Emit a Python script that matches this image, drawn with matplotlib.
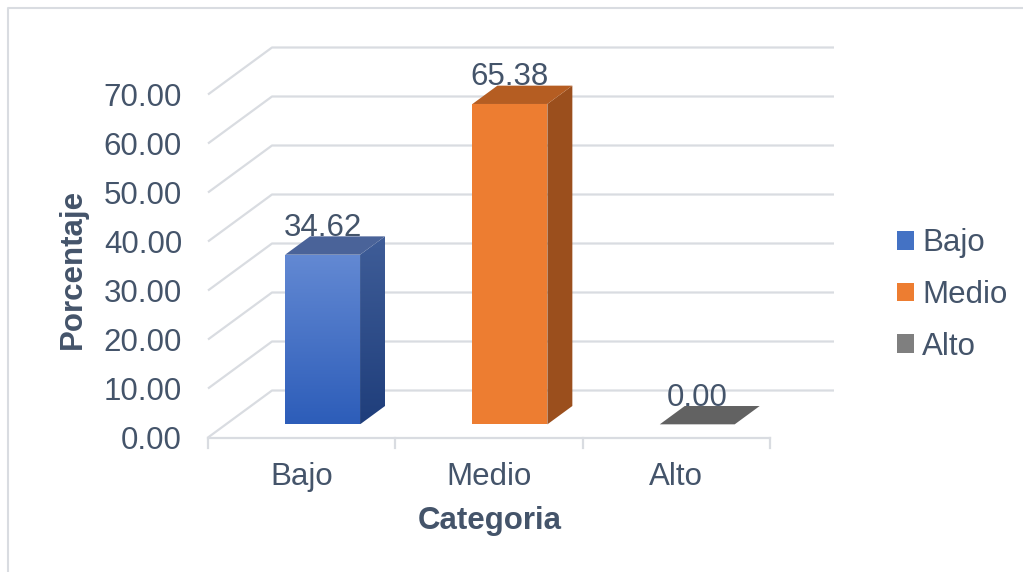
import numpy as np
import matplotlib
matplotlib.use("Agg")
import matplotlib.pyplot as plt
from matplotlib.patches import Polygon, Patch
from matplotlib.colors import LinearSegmentedColormap

categories = ["Bajo", "Medio", "Alto"]
values = [34.62, 65.38, 0.00]
yticks = [0, 10, 20, 30, 40, 50, 60, 70]

# face colours: (front top, front bottom), (side top, side bottom), top face
front_cols = [("#6389D3", "#2D5DB9"), ("#ED7D31", "#ED7D31"), ("#636363", "#636363")]
side_cols = [("#3F5D98", "#1F3E7B"), ("#9B4F1D", "#9B4F1D"), ("#4A4A4A", "#4A4A4A")]
top_cols = ["#4A6399", "#B55D22", "#626262"]
legend_cols = ["#4472C4", "#ED7D31", "#7F7F7F"]

text_col = "#44546A"
grid_col = "#D9DCE1"
plt.rcParams["font.family"] = ["Liberation Sans", "DejaVu Sans"]
fs = 22.5

W, H = 1023, 572
fig = plt.figure(figsize=(W / 100, H / 100), dpi=100)
ax = fig.add_axes([0, 0, 1, 1])
ax.set_axis_off()

# front plane: category slots span x px 208..770, value 0 at y px 437.5, 4.9 px per unit
px_left, px_right = 208, 770
ppx = (px_right - px_left) / len(categories)
py0, ppy = 437.5, 4.9
ax.set_xlim(-0.5 - px_left / ppx, -0.5 + (W - px_left) / ppx)
ax.set_ylim(-(H - py0) / ppy, py0 / ppy)

# oblique depth offset of the back wall
DX = 64 / ppx
DV = 47 / ppy


def proj(x, v, f):
    return (x + f * DX, v + f * DV)


x0, x1 = -0.5, len(categories) - 0.5

# back wall gridlines with their side diagonals
for v in yticks:
    pts = [proj(x0, v, 0), proj(x0, v, 1), proj(x1, v, 1)]
    ax.plot(*zip(*pts), color=grid_col, lw=1.6, solid_capstyle="butt", zorder=1)
    ax.text(x0 - 26 / ppx, v - 3.5 / ppy, f"{v:.2f}", ha="right", va="center",
            fontsize=fs, color=text_col)

# floor front edge and category ticks
ax.plot([x0, x1], [0, 0], color=grid_col, lw=1.6, zorder=1)
for b in np.arange(x0, x1 + 0.01, 1.0):
    ax.plot([b, b], [0, -10 / ppy], color=grid_col, lw=1.6, zorder=1)

for i, c in enumerate(categories):
    ax.text(i, -(477 - py0) / ppy, c, ha="center", va="center",
            fontsize=fs, color=text_col)


def grad_poly(pts, c_top, c_bot, z):
    poly = Polygon(pts, closed=True, facecolor="none", edgecolor="none", zorder=z)
    ax.add_patch(poly)
    if c_top == c_bot:
        poly.set_facecolor(c_top)
        return
    xs = [p[0] for p in pts]
    ys = [p[1] for p in pts]
    cmap = LinearSegmentedColormap.from_list("g", [c_bot, c_top])
    grad = np.linspace(0, 1, 256).reshape(-1, 1)
    im = ax.imshow(grad, cmap=cmap, origin="lower", aspect="auto",
                   extent=[min(xs), max(xs), min(ys), max(ys)], zorder=z,
                   interpolation="bilinear")
    im.set_clip_path(poly)


# 3D bars
bw = 0.4
shift = 3 / ppx
f0, f1 = 0.28, 0.67
for i, v in enumerate(values):
    xl, xr = i - bw / 2 + shift, i + bw / 2 + shift
    if v > 0:
        front = [proj(xl, 0, f0), proj(xr, 0, f0), proj(xr, v, f0), proj(xl, v, f0)]
        side = [proj(xr, 0, f0), proj(xr, 0, f1), proj(xr, v, f1), proj(xr, v, f0)]
        grad_poly(front, *front_cols[i], z=3)
        grad_poly(side, *side_cols[i], z=3)
    top = [proj(xl, v, f0), proj(xr, v, f0), proj(xr, v, f1), proj(xl, v, f1)]
    ax.add_patch(Polygon(top, closed=True, facecolor=top_cols[i],
                         edgecolor="none", zorder=3))
    lx = proj(i + shift, v, f0)[0]
    ly = proj(i, v, f1)[1]
    ax.text(lx, ly + 0.1, f"{v:.2f}", ha="center", va="baseline",
            fontsize=fs, color=text_col, zorder=4)

# axis titles
ax.text(-0.5 + (490 - px_left) / ppx, -(521 - py0) / ppy, "Categoria",
        ha="center", va="center", fontsize=fs, fontweight="bold", color=text_col)
fig.text(73 / W, 1 - 269 / H, "Porcentaje", rotation=90, ha="center",
         va="center", fontsize=fs, fontweight="bold", color=text_col)

# legend
handles = [Patch(facecolor=c, edgecolor="none") for c in legend_cols]
fig.legend(handles, categories, loc="center left",
           bbox_to_anchor=(897 / W, 1 - 295 / H), frameon=False,
           fontsize=fs, labelcolor=text_col, handlelength=0.55,
           handleheight=0.55, handletextpad=0.25, labelspacing=0.69,
           borderpad=0, borderaxespad=0)

# chart area border (top and left edges)
fig.add_artist(plt.Line2D([8 / W, 8 / W, 1], [0, 1 - 7.5 / H, 1 - 7.5 / H],
                          transform=fig.transFigure, color=grid_col, lw=1.5))

fig.savefig("out.png", dpi=100, facecolor="white")
